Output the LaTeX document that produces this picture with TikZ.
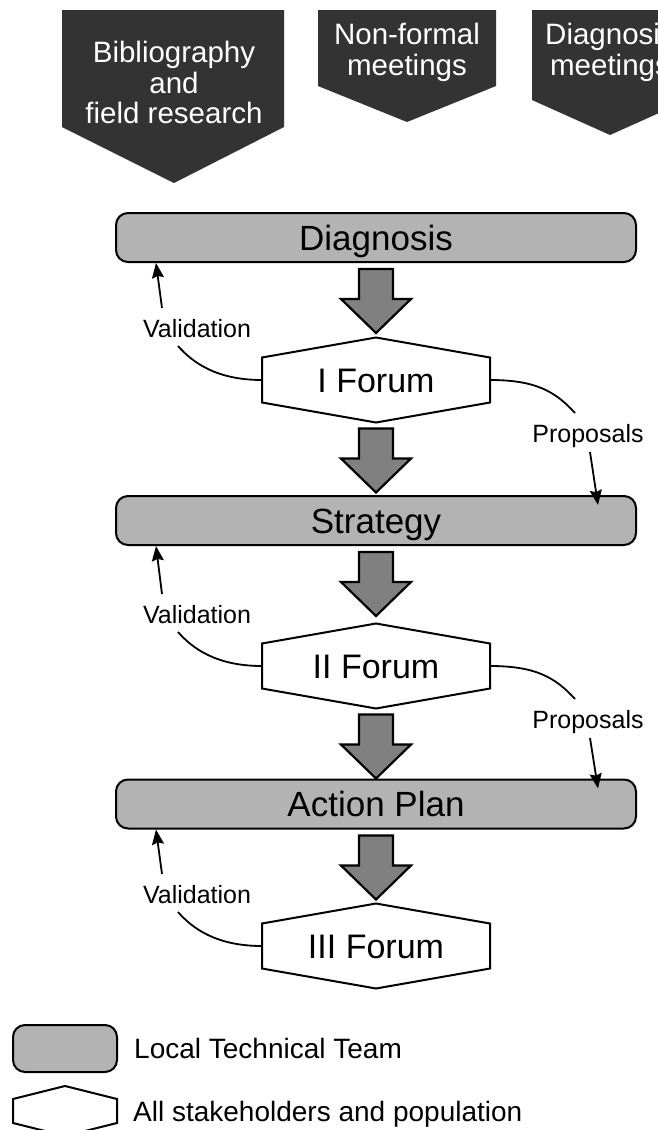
\documentclass[tikz,border=0pt]{standalone}
\usepackage{fontspec}
\setmainfont{Liberation Sans}
\definecolor{srcdark}{RGB}{51,51,51}
\definecolor{teamgray}{RGB}{179,179,179}
\definecolor{flowgray}{RGB}{128,128,128}
\usetikzlibrary{arrows.meta,positioning,calc,backgrounds}

\begin{document}
\begin{tikzpicture}[
  x=1pt,y=-1pt,
  team/.style={draw,line width=2pt,fill=teamgray,rounded corners=12pt,
               minimum width=520pt,minimum height=49pt,text height=25pt,text depth=0pt,
               font=\fontsize{35}{40}\selectfont},
  forum/.style={inner sep=0pt,outer sep=0pt,minimum width=228pt,minimum height=45pt,
                text height=24pt,text depth=0pt,font=\fontsize{34}{40}\selectfont},
  hexline/.style={draw,line width=2pt,fill=white},
  srctext/.style={text=white,align=center,inner sep=0pt,anchor=north,
                  font=\fontsize{29.5}{30.5}\selectfont},
  lbl/.style={inner sep=0pt,anchor=base,font=\fontsize{25}{30}\selectfont},
  conn/.style={line width=1.8pt},
  conna/.style={line width=1.8pt,-{Stealth[length=15pt,width=12pt,inset=2pt]}},
  flow/.style={draw,line width=2.2pt,fill=flowgray,line join=miter},
  legtext/.style={inner sep=0pt,anchor=base west,font=\fontsize{28}{30}\selectfont},
]
  \useasboundingbox (0,0) rectangle (658,1130);

  % sources on top
  \fill[srcdark] (62,10) -- (284,10) -- (284,127) -- (174,183) -- (62,127) -- cycle;
  \fill[srcdark] (318,10) -- (496,10) -- (496,86) -- (407,122) -- (318,86) -- cycle;
  \fill[srcdark] (532,10) -- (688,10) -- (688,100) -- (610,135) -- (532,100) -- cycle;
  \node[srctext] (src1) at (174,41) {Bibliography\\and\\field research};
  \node[srctext] (src2) at (407,23) {Non-formal\\meetings};
  \node[srctext] (src3) at (610,23) {Diagnosis\\meetings};

  % main column
  \node[team]  (diag)  at (376,237.5) {Diagnosis};
  \node[forum] (f1)    at (376,380)   {I Forum};
  \node[team]  (strat) at (376,520.5) {Strategy};
  \node[forum] (f2)    at (376,666)   {II Forum};
  \node[team]  (plan)  at (376,804)   {Action Plan};
  \node[forum] (f3)    at (376,946)   {III Forum};

  % big flow arrows
  \foreach \a/\o in {diag/6,f1/26,strat/6,f2/26,plan/6}
    \draw[flow] ($(\a.south)+(0,\o)$) ++(-17,0) -- ++(0,30) -- ++(-18,0)
      -- ++(35,34) -- ++(35,-34) -- ++(-18,0) -- ++(0,-30) -- cycle;

  % validation loops
  \foreach \f/\b in {f1/diag,f2/strat,f3/plan} {
    \node[lbl] (v\f) at ($(\f)+(-179,-43)$) {Validation};
    \draw[conn] (\f.west) .. controls +(-45,0) and +(15,17) .. ($(v\f.base)+(-19,9)$);
    \draw[conna] ($(v\f.base)+(-35,-29)$) -- ($(\b.south west)+(41,0)$);
  }

  % proposals
  \foreach \f/\b in {f1/strat,f2/plan} {
    \node[lbl] (p\f) at ($(\f)+(212,62)$) {Proposals};
    \draw[conn] (\f.east) .. controls +(45,0) and +(-20,-22) .. ($(p\f.base)+(-13,-29)$);
    \draw[conna] ($(p\f.base)+(2,10)$) -- ($(\b.north east)+(-39,10)$);
  }

  % legend
  \node[team,minimum width=104pt,minimum height=47pt] (lbox) at (65,1048.5) {};
  \node[forum,minimum width=104pt,minimum height=18pt] (lhex) at (65,1111) {};
  \node[legtext,anchor=west,right=16pt of lbox] (lt1) {Local Technical Team};
  \node[legtext] (lt2) at ($(lhex.east)+(16,10)$) {All stakeholders and population};

  % hexagons and paper
  \begin{pgfonlayer}{background}
    \fill[white] (0,0) rectangle (658,1130);
    \foreach \h/\r in {f1/20,f2/20,f3/20,lhex/13}
      \draw[hexline] (\h.north west) -- ($(\h.north)+(0,-\r)$) -- (\h.north east)
        -- (\h.south east) -- ($(\h.south)+(0,\r)$) -- (\h.south west) -- cycle;
  \end{pgfonlayer}
\end{tikzpicture}
\end{document}
